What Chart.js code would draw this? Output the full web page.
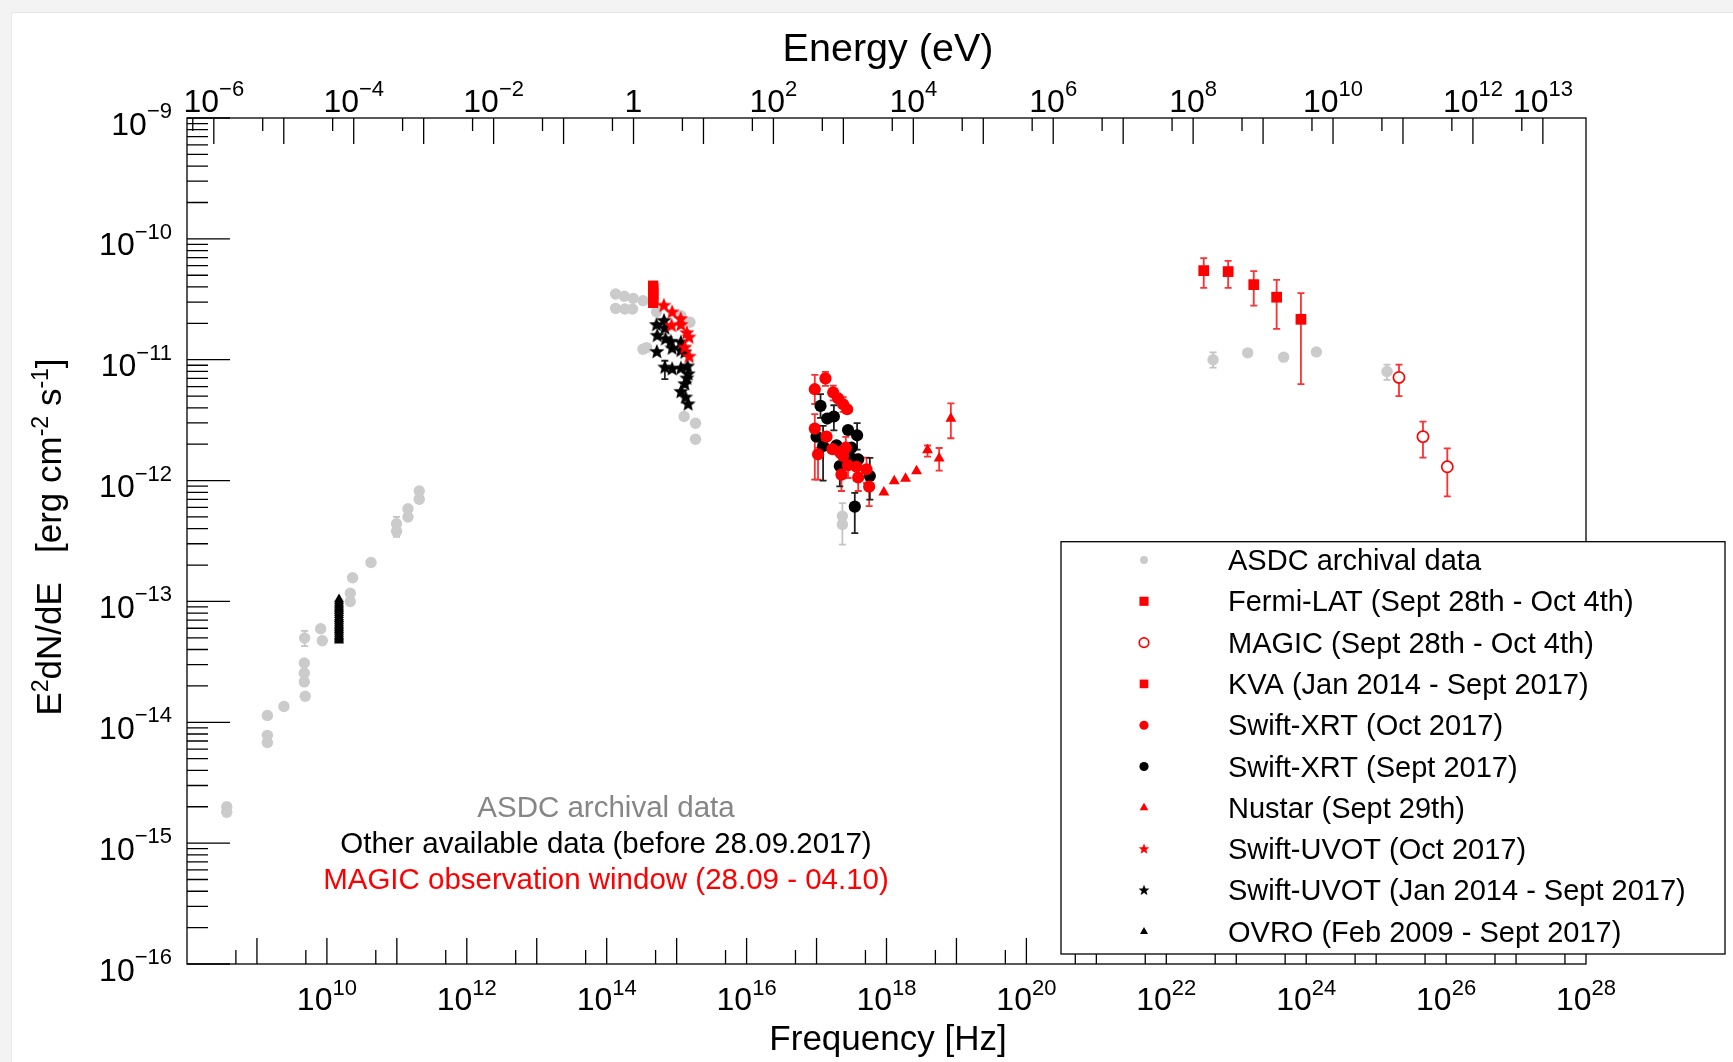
<!DOCTYPE html>
<html>
<head>
<meta charset="utf-8">
<script src="https://cdn.jsdelivr.net/npm/chart.js@4.4.0/dist/chart.umd.min.js"></script>
<style>
html,body{margin:0;padding:0;background:#f3f3f3;overflow:hidden}
canvas{display:block}
</style>
</head>
<body>
<canvas id="c" width="1733" height="1062"></canvas>
<script>
// Planck constant in eV s : energy (eV) = h * frequency (Hz)
const H_EV = 4.135667e-15;

// Each row: [frequency Hz, E2dN/dE erg cm-2 s-1, errLow, errHigh]
const asdcArchival = [
  [3.7e8, 1.8e-15], [3.7e8, 2.0e-15],
  [1.41e9, 1.14e-14], [1.41e9, 7.8e-15], [1.41e9, 6.8e-15],
  [2.43e9, 1.35e-14],
  [4.9e9, 1.64e-14], [4.75e9, 2.16e-14], [4.75e9, 2.55e-14], [4.75e9, 3.09e-14],
  [4.8e9, 4.98e-14, 4.27e-14, 5.7e-14],
  [8.15e9, 5.95e-14], [8.6e9, 4.73e-14],
  [2.16e10, 1.17e-13], [2.16e10, 1.0e-13], [2.33e10, 1.57e-13], [4.27e10, 2.1e-13],
  [9.9e10, 4.4e-13, 3.42e-13, 5.0e-13], [9.9e10, 3.8e-13],
  [1.44e11, 5.85e-13], [1.44e11, 5.0e-13], [2.09e11, 8.2e-13], [2.09e11, 7.0e-13],
  [1.34e14, 3.5e-11], [1.78e14, 3.35e-11], [2.39e14, 3.22e-11], [3.32e14, 3.08e-11],
  [1.34e14, 2.66e-11], [1.82e14, 2.63e-11], [2.34e14, 2.63e-11], [5.16e14, 2.49e-11],
  [1.15e15, 2.31e-11], [1.55e15, 2.04e-11],
  [3.3e14, 1.22e-11], [3.72e14, 1.26e-11],
  [1.28e15, 3.39e-12], [1.86e15, 2.98e-12], [1.86e15, 2.2e-12],
  [2.34e17, 5.08e-13, 2.95e-13, 6.5e-13], [2.34e17, 4.34e-13],
  [4.66e22, 1.0e-11, 8.6e-12, 1.15e-11], [1.46e23, 1.14e-11], [4.76e23, 1.05e-11], [1.4e24, 1.16e-11],
  [1.43e25, 8.0e-12, 6.8e-12, 9.1e-12]
];

const fermiLAT = [
  [3.43e22, 5.46e-11, 3.93e-11, 6.92e-11],
  [7.66e22, 5.36e-11, 3.93e-11, 6.58e-11],
  [1.78e23, 4.18e-11, 2.8e-11, 5.4e-11],
  [3.78e23, 3.29e-11, 1.8e-11, 4.57e-11],
  [8.41e23, 2.16e-11, 6.28e-12, 3.56e-11]
];

const magic = [
  [2.12e25, 7.13e-12, 5.0e-12, 9.1e-12],
  [4.67e25, 2.31e-12, 1.55e-12, 3.08e-12],
  [1.04e26, 1.3e-12, 7.4e-13, 1.85e-12]
];

const kva = [
  [4.61e14, 2.95e-11], [4.61e14, 3.05e-11], [4.61e14, 3.15e-11], [4.61e14, 3.25e-11],
  [4.61e14, 3.35e-11], [4.61e14, 3.45e-11], [4.61e14, 3.6e-11], [4.61e14, 3.7e-11],
  [4.61e14, 3.8e-11], [4.61e14, 3.9e-11], [4.61e14, 4.0e-11], [4.61e14, 4.1e-11]
];

const xrtOct = [
  [9.44e16, 5.7e-12, 4.3e-12, 7.5e-12],
  [1.34e17, 7.0e-12, 6.08e-12, 7.94e-12],
  [1.73e17, 5.36e-12, 4.6e-12, 6.1e-12],
  [2.04e17, 4.78e-12], [2.4e17, 4.28e-12, 3.7e-12, 4.9e-12], [2.74e17, 3.89e-12],
  [9.44e16, 2.69e-12, 1.02e-12, 3.54e-12],
  [1.05e17, 1.65e-12, 1.02e-12, 1.87e-12],
  [1.39e17, 2.31e-12], [1.69e17, 1.82e-12], [2.15e17, 1.72e-12],
  [2.62e17, 1.87e-12, 1.5e-12, 2.3e-12], [2.4e17, 1.6e-12],
  [2.82e17, 1.34e-12, 1.05e-12, 1.7e-12], [3.72e17, 1.3e-12, 1.0e-12, 1.65e-12],
  [2.27e17, 1.12e-12, 8.2e-13, 1.32e-12],
  [3.94e17, 1.06e-12, 8.2e-13, 1.24e-12],
  [5.18e17, 1.24e-12, 9.5e-13, 1.55e-12],
  [5.65e17, 8.9e-13, 6.15e-13, 1.06e-12]
];

const xrtSep = [
  [1.14e17, 4.15e-12, 3.3e-12, 5.2e-12],
  [1.42e17, 3.26e-12], [1.77e17, 3.39e-12, 2.6e-12, 4.2e-12],
  [2.82e17, 2.62e-12], [3.8e17, 2.37e-12, 1.8e-12, 2.99e-12],
  [1.0e17, 2.31e-12],
  [1.24e17, 1.93e-12, 1.0e-12, 2.83e-12],
  [1.93e17, 1.96e-12], [3.16e17, 1.87e-12],
  [2.15e17, 1.32e-12, 8.95e-13, 1.58e-12],
  [3.16e17, 1.52e-12], [3.94e17, 1.5e-12],
  [5.78e17, 1.09e-12, 6.95e-13, 1.54e-12],
  [3.52e17, 6.08e-13, 3.68e-13, 7.9e-13]
];

const nustar = [
  [9.16e17, 8.0e-13], [1.29e18, 9.9e-13], [1.87e18, 1.04e-12], [2.69e18, 1.2e-12],
  [3.86e18, 1.79e-12, 1.58e-12, 1.95e-12],
  [5.66e18, 1.53e-12, 1.21e-12, 1.86e-12],
  [8.32e18, 3.26e-12, 2.24e-12, 4.36e-12]
];

const uvotOct = [
  [6.56e14, 2.8e-11], [8.63e14, 2.47e-11], [1.14e15, 2.17e-11], [8.45e14, 1.91e-11],
  [1.15e15, 1.94e-11], [1.4e15, 1.66e-11], [1.5e15, 1.53e-11], [1.31e15, 1.26e-11],
  [1.51e15, 1.06e-11]
];

const uvotArchive = [
  [6.6e14, 2.1e-11], [5.16e14, 1.94e-11], [6.78e14, 1.82e-11], [5.27e14, 1.58e-11],
  [6.92e14, 1.48e-11], [8.26e14, 1.41e-11], [8.63e14, 1.24e-11], [1.15e15, 1.39e-11],
  [1.15e15, 1.19e-11], [5.21e14, 1.16e-11], [1.31e15, 1.15e-11],
  [6.78e14, 8.63e-12, 6.9e-12, 9.8e-12],
  [8.63e14, 8.36e-12], [1.15e15, 8.47e-12], [1.43e15, 8.8e-12], [1.46e15, 7.59e-12],
  [1.4e15, 7.0e-12], [1.31e15, 6.28e-12], [1.15e15, 5.42e-12], [1.34e15, 4.87e-12],
  [1.46e15, 4.28e-12]
];

const ovro = [
  [1.49e10, 4.75e-14], [1.49e10, 4.9e-14], [1.49e10, 5.05e-14], [1.49e10, 5.2e-14],
  [1.49e10, 5.4e-14], [1.49e10, 5.6e-14], [1.49e10, 5.8e-14], [1.49e10, 6.0e-14],
  [1.49e10, 6.2e-14], [1.49e10, 6.4e-14], [1.49e10, 6.65e-14], [1.49e10, 6.9e-14],
  [1.49e10, 7.15e-14], [1.49e10, 7.4e-14], [1.49e10, 7.7e-14], [1.49e10, 8.0e-14],
  [1.49e10, 8.3e-14], [1.49e10, 8.6e-14], [1.49e10, 8.9e-14], [1.49e10, 9.25e-14],
  [1.49e10, 9.6e-14], [1.49e10, 1.0e-13], [1.49e10, 1.04e-13]
];

const legendLabels = [
  'ASDC archival data',
  'Fermi-LAT (Sept 28th - Oct 4th)',
  'MAGIC (Sept 28th - Oct 4th)',
  'KVA (Jan 2014 - Sept 2017)',
  'Swift-XRT (Oct 2017)',
  'Swift-XRT (Sept 2017)',
  'Nustar (Sept 29th)',
  'Swift-UVOT (Oct 2017)',
  'Swift-UVOT (Jan 2014 - Sept 2017)',
  'OVRO (Feb 2009 - Sept 2017)'
];

const notes = [
  ['ASDC archival data', '#868686'],
  ['Other available data (before 28.09.2017)', '#000000'],
  ['MAGIC observation window (28.09 - 04.10)', '#ff0000']
];

const yTickExps = [-16, -15, -14, -13, -12, -11, -10, -9];
const freqLabelExps = [10, 12, 14, 16, 18, 20, 22, 24, 26, 28];
const energyLabelExps = [-6, -4, -2, 0, 2, 4, 6, 8, 10, 12, 13];

// ---------------------------------------------------------------
const FONT = '"Liberation Sans", Arial, Helvetica, sans-serif';
const RED = '#ff0000', GRAY = '#cbcbcb', BLACK = '#000000';

function makeStar(color) {
  const c = document.createElement('canvas');
  c.width = 18; c.height = 18;
  const g = c.getContext('2d');
  g.fillStyle = color;
  g.beginPath();
  for (let i = 0; i < 10; i++) {
    const r = i % 2 ? 3.5 : 8.0;
    const a = -Math.PI / 2 + i * Math.PI / 5;
    g.lineTo(9 + r * Math.cos(a), 9 + r * Math.sin(a));
  }
  g.closePath();
  g.fill();
  return c;
}
const starRed = makeStar(RED), starBlack = makeStar(BLACK);

function toPts(arr) {
  return arr.map(r => ({x: r[0], y: r[1], lo: r[2], hi: r[3]}));
}

function ds(label, arr, style, color, opts) {
  return Object.assign({
    label: label,
    data: toPts(arr),
    pointStyle: style,
    pointRadius: 5,
    backgroundColor: color,
    borderColor: color,
    pointBorderWidth: 0,
    errColor: color,
    legendScale: 0.85,
    showLine: false
  }, opts || {});
}

const datasets = [
  ds(legendLabels[0], asdcArchival, 'circle', GRAY, {pointRadius: 5.7, order: 9, errColor: '#c4c4c4', legendScale: 0.7}),
  ds(legendLabels[1], fermiLAT, 'rect', RED, {pointRadius: 7.6, order: 1, errColor: '#ff3030'}),
  ds(legendLabels[2], magic, 'circle', RED, {pointRadius: 5.6, backgroundColor: '#ffffff', pointBorderWidth: 1.7, order: 0, errColor: '#ff3030'}),
  ds(legendLabels[3], kva, 'rect', RED, {pointRadius: 7.2, order: 6}),
  ds(legendLabels[4], xrtOct, 'circle', RED, {pointRadius: 6.1, order: 3, errColor: '#ff3030', legendScale: 0.75}),
  ds(legendLabels[5], xrtSep, 'circle', BLACK, {pointRadius: 6.1, order: 4, errColor: '#222222', legendScale: 0.75}),
  ds(legendLabels[6], nustar, 'triangle', RED, {pointRadius: 6.3, order: 2, errColor: '#ff3030', legendScale: 0.8}),
  ds(legendLabels[7], uvotOct, starRed, RED, {order: 5}),
  ds(legendLabels[8], uvotArchive, starBlack, BLACK, {order: 7, errColor: '#222222'}),
  ds(legendLabels[9], ovro, 'triangle', BLACK, {pointRadius: 5.8, order: 8, legendScale: 0.8})
];

function drawPow(ctx, base, exp, x, y, align, bs, es, raise) {
  ctx.font = bs + 'px ' + FONT;
  const wb = ctx.measureText(base).width;
  let we = 0;
  if (exp) { ctx.font = es + 'px ' + FONT; we = ctx.measureText(exp).width; }
  const w = wb + we;
  const x0 = align === 'center' ? x - w / 2 : (align === 'right' ? x - w : x);
  ctx.textAlign = 'left';
  ctx.textBaseline = 'alphabetic';
  ctx.font = bs + 'px ' + FONT;
  ctx.fillText(base, x0, y);
  if (exp) { ctx.font = es + 'px ' + FONT; ctx.fillText(exp, x0 + wb, y - raise); }
}
function expStr(n) { return (n < 0 ? '\u2212' : '') + Math.abs(n); }

function drawRich(ctx, segs, x, y) {
  let total = 0;
  segs.forEach(s => { ctx.font = s[1] + 'px ' + FONT; total += ctx.measureText(s[0]).width; });
  let cx = x - total / 2;
  ctx.textAlign = 'left'; ctx.textBaseline = 'alphabetic';
  segs.forEach(s => {
    ctx.font = s[1] + 'px ' + FONT;
    ctx.fillText(s[0], cx, y - s[2]);
    cx += ctx.measureText(s[0]).width;
  });
}

const bgPlugin = {
  id: 'bg',
  beforeDraw(chart) {
    const ctx = chart.ctx;
    ctx.save();
    ctx.fillStyle = '#f3f3f3';
    ctx.fillRect(0, 0, chart.width, chart.height);
    ctx.fillStyle = '#e8e8e8';
    ctx.fillRect(11, 12, chart.width, chart.height);
    ctx.fillStyle = '#ffffff';
    ctx.fillRect(12, 13, chart.width, chart.height);
    ctx.restore();
  }
};

const errPlugin = {
  id: 'errbars',
  beforeDatasetsDraw(chart) {
    const ctx = chart.ctx, xs = chart.scales.x, ys = chart.scales.y;
    ctx.save();
    ctx.lineWidth = 1.8;
    chart.data.datasets.forEach(d => {
      ctx.strokeStyle = d.errColor;
      d.data.forEach(p => {
        if (p.lo == null || p.hi == null) return;
        const px = xs.getPixelForValue(p.x);
        const y1 = ys.getPixelForValue(p.lo), y2 = ys.getPixelForValue(p.hi);
        ctx.beginPath();
        ctx.moveTo(px, y1); ctx.lineTo(px, y2);
        ctx.moveTo(px - 3.5, y1); ctx.lineTo(px + 3.5, y1);
        ctx.moveTo(px - 3.5, y2); ctx.lineTo(px + 3.5, y2);
        ctx.stroke();
      });
    });
    ctx.restore();
  }
};

const axesPlugin = {
  id: 'rootAxes',
  afterDraw(chart) {
    const ctx = chart.ctx, a = chart.chartArea;
    const xs = chart.scales.x, ys = chart.scales.y, xe = chart.scales.xe;
    ctx.save();
    ctx.strokeStyle = '#000';
    ctx.fillStyle = '#000';
    ctx.lineWidth = 1.3;
    // frame
    ctx.strokeRect(a.left, a.top, a.right - a.left, a.bottom - a.top);
    ctx.beginPath();
    // left axis ticks
    for (let e = -16; e <= -9; e++) {
      const py = ys.getPixelForValue(Math.pow(10, e));
      ctx.moveTo(a.left, py); ctx.lineTo(a.left + 43, py);
      if (e < -9) {
        for (let k = 2; k <= 9; k++) {
          const q = ys.getPixelForValue(k * Math.pow(10, e));
          ctx.moveTo(a.left, q); ctx.lineTo(a.left + 21, q);
        }
      }
    }
    // bottom axis ticks
    for (let e = 8; e <= 28; e++) {
      const px = xs.getPixelForValue(Math.pow(10, e));
      if (e > 8 && e < 28) { ctx.moveTo(px, a.bottom); ctx.lineTo(px, a.bottom - 26); }
      const m = xs.getPixelForValue(5 * Math.pow(10, e));
      if (e < 28) { ctx.moveTo(m, a.bottom); ctx.lineTo(m, a.bottom - 14); }
    }
    // top axis ticks (energy)
    for (let e = -7; e <= 13; e++) {
      const v = Math.pow(10, e);
      if (v > xe.min && v < xe.max) {
        const px = xe.getPixelForValue(v);
        ctx.moveTo(px, a.top); ctx.lineTo(px, a.top + 26);
      }
      const m = 5 * v;
      if (m > xe.min && m < xe.max) {
        const q = xe.getPixelForValue(m);
        ctx.moveTo(q, a.top); ctx.lineTo(q, a.top + 13);
      }
    }
    ctx.stroke();

    // tick labels
    yTickExps.forEach(e => {
      const py = ys.getPixelForValue(Math.pow(10, e));
      drawPow(ctx, '10', expStr(e), 172, py + 16.5, 'right', 32, 22, 16.5);
    });
    freqLabelExps.forEach(e => {
      const px = xs.getPixelForValue(Math.pow(10, e));
      drawPow(ctx, '10', expStr(e), px, a.bottom + 46, 'center', 32, 22, 15.5);
    });
    energyLabelExps.forEach(e => {
      const px = xe.getPixelForValue(Math.pow(10, e));
      if (e === 0) drawPow(ctx, '1', '', px, a.top - 6.5, 'center', 32, 22, 15.5);
      else drawPow(ctx, '10', expStr(e), px, a.top - 6.5, 'center', 32, 22, 15.5);
    });

    // axis titles
    ctx.textAlign = 'center';
    ctx.font = '39.5px ' + FONT;
    ctx.fillText('Energy (eV)', 888, 61);
    ctx.font = '35px ' + FONT;
    ctx.fillText('Frequency [Hz]', 888, 1050);
    ctx.save();
    ctx.translate(61, 537);
    ctx.rotate(-Math.PI / 2);
    drawRich(ctx, [['E', 35, 0], ['2', 23, 13.5], ['dN/dE   [erg cm', 35, 0], ['-2', 23, 13.5], [' s', 35, 0], ['-1', 23, 13.5], [']', 35, 0]], 0, 0);
    ctx.restore();

    // notes in plot
    ctx.font = '29.5px ' + FONT;
    ctx.textAlign = 'center';
    notes.forEach((n, i) => {
      ctx.fillStyle = n[1];
      ctx.fillText(n[0], 606, 816.5 + i * 36);
    });

    // legend
    const L = {l: 1061, t: 541.7, r: 1725, b: 954};
    ctx.fillStyle = '#fff';
    ctx.fillRect(L.l, L.t, L.r - L.l, L.b - L.t);
    ctx.lineWidth = 1.3;
    ctx.strokeStyle = '#000';
    ctx.strokeRect(L.l, L.t, L.r - L.l, L.b - L.t);
    const drawPoint = Chart.helpers && Chart.helpers.drawPoint;
    chart.data.datasets.forEach((d, i) => {
      const base = 570 + i * 41.3;
      ctx.fillStyle = '#000';
      ctx.font = '29px ' + FONT;
      ctx.textAlign = 'left';
      ctx.fillText(d.label, 1228, base);
      const mx = 1144, my = base - 10;
      ctx.fillStyle = d.backgroundColor;
      ctx.strokeStyle = d.borderColor;
      ctx.lineWidth = d.pointBorderWidth || 0;
      if (typeof d.pointStyle === 'object') {
        const img = d.pointStyle, s = 0.7;
        ctx.drawImage(img, mx - img.width * s / 2, my - img.height * s / 2, img.width * s, img.height * s);
      } else if (drawPoint) {
        drawPoint(ctx, {pointStyle: d.pointStyle, rotation: 0, radius: d.pointRadius * d.legendScale, borderWidth: d.pointBorderWidth || 0}, mx, my);
      } else {
        ctx.beginPath(); ctx.arc(mx, my, 4, 0, 2 * Math.PI); ctx.fill();
      }
    });
    ctx.restore();
  }
};

new Chart(document.getElementById('c'), {
  type: 'scatter',
  data: {datasets: datasets},
  options: {
    responsive: false,
    animation: false,
    devicePixelRatio: 1,
    events: [],
    layout: {padding: {left: 187, top: 118, right: 147, bottom: 98}},
    scales: {
      x: {type: 'logarithmic', position: 'bottom', min: 1e8, max: 1e28, display: false},
      y: {type: 'logarithmic', position: 'left', min: 1e-16, max: 1e-9, display: false},
      xe: {type: 'logarithmic', axis: 'x', position: 'top', min: 1e8 * H_EV, max: 1e28 * H_EV, display: false}
    },
    plugins: {legend: {display: false}, tooltip: {enabled: false}}
  },
  plugins: [bgPlugin, errPlugin, axesPlugin]
});
</script>
</body>
</html>
